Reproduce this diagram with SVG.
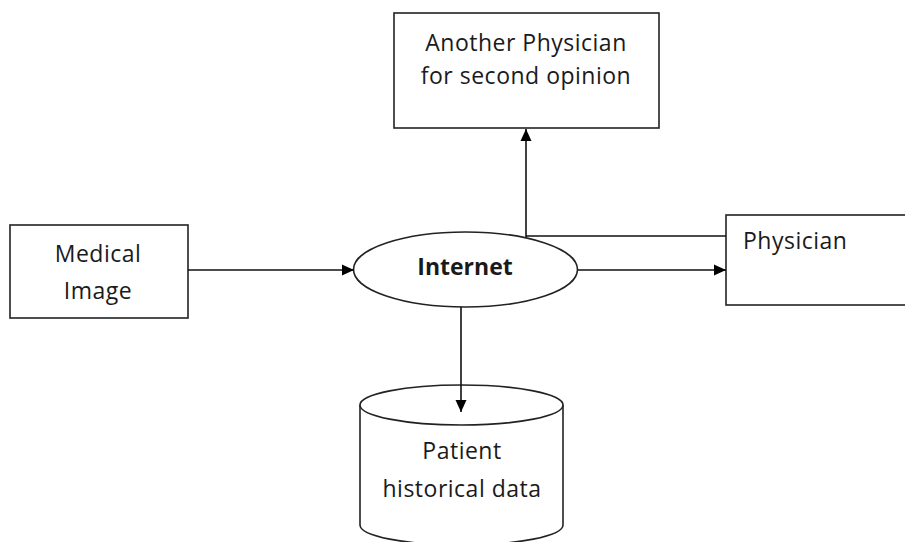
<svg xmlns="http://www.w3.org/2000/svg" width="905" height="542" viewBox="0 0 905 542">
<style>
.box{fill:#fff;stroke:#222;stroke-width:1.6}
.lbl{font-family:"Open Sans","Liberation Sans",sans-serif;font-size:23px;letter-spacing:0.5px;fill:#1a1a1a}
.bold{font-weight:bold;letter-spacing:0}
.ln{stroke:#111;stroke-width:1.6;fill:none}
</style>
<defs>
<marker id="ah" viewBox="0 0 12 12" refX="12" refY="6" markerWidth="12" markerHeight="12" markerUnits="userSpaceOnUse" orient="auto">
<path d="M0,0.5 L12,6 L0,11.5 Z" fill="#000"/>
</marker>
</defs>
<rect width="905" height="542" fill="#fff"/>
<g id="another-physician">
<rect class="box" x="394" y="13" width="265" height="115"/>
<text class="lbl" x="526" y="51" text-anchor="middle">Another Physician</text>
<text class="lbl" x="526" y="84" text-anchor="middle">for second opinion</text>
</g>
<g id="medical-image">
<rect class="box" x="10" y="225" width="178" height="93"/>
<text class="lbl" x="98" y="262" text-anchor="middle">Medical</text>
<text class="lbl" x="98" y="299" text-anchor="middle">Image</text>
</g>
<g id="physician">
<rect class="box" x="726" y="215" width="190" height="90"/>
<text class="lbl" x="743" y="249">Physician</text>
</g>
<g id="patient-data">
<path class="box" d="M360,405 L360,525 A101.5,20 0 0 0 563,525 L563,405"/>
<ellipse class="box" cx="461.5" cy="405" rx="101.5" ry="20"/>
<text class="lbl" x="462" y="459" text-anchor="middle">Patient</text>
<text class="lbl" x="462" y="497" text-anchor="middle">historical data</text>
</g>
<g id="internet">
<ellipse class="box" cx="465.5" cy="269.5" rx="112" ry="37.5" stroke-width="1.3"/>
<text class="lbl bold" x="465" y="275" text-anchor="middle">Internet</text>
</g>
<g id="connectors">
<line class="ln" x1="188" y1="270" x2="354" y2="270" marker-end="url(#ah)"/>
<line class="ln" x1="578" y1="270" x2="726" y2="270" marker-end="url(#ah)"/>
<line class="ln" x1="526" y1="237" x2="526" y2="129" marker-end="url(#ah)"/>
<line class="ln" x1="526" y1="236" x2="726" y2="236"/>
<line class="ln" x1="461" y1="307" x2="461" y2="412" marker-end="url(#ah)"/>
</g>
</svg>
